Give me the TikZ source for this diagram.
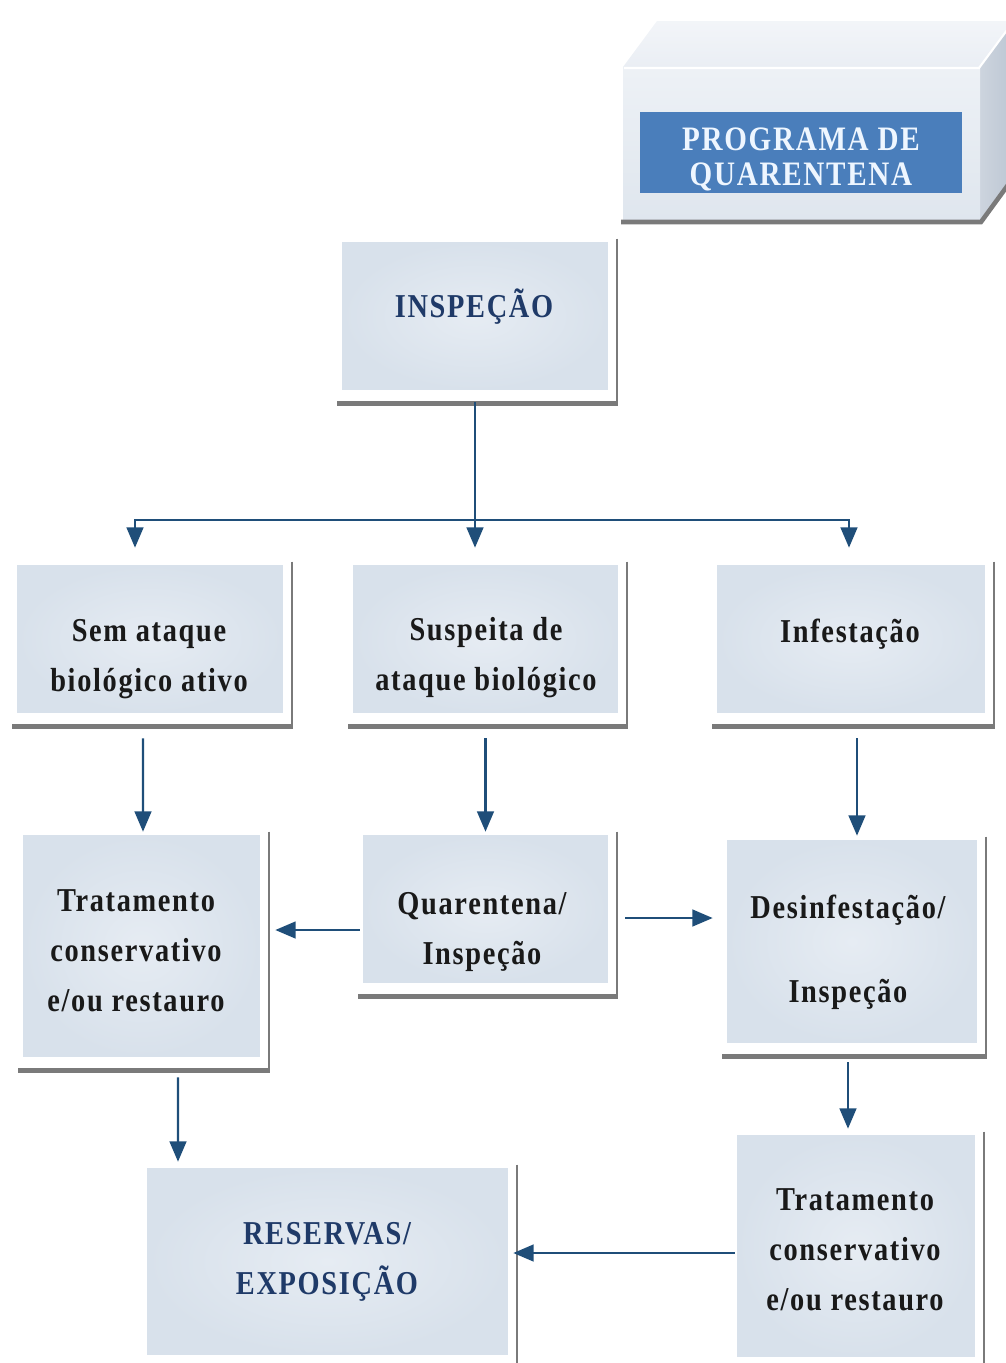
\documentclass[tikz,border=0pt]{standalone}
\usepackage{fontspec}
\setmainfont{Liberation Serif}[FakeStretch=0.85, LetterSpace=5]
\usetikzlibrary{arrows.meta}

\definecolor{boxfill}{HTML}{D8E1EB}
\definecolor{boxlight}{HTML}{E6ECF3}
\definecolor{flowblue}{HTML}{1F4E79}
\definecolor{headblue}{HTML}{1F3A68}
\definecolor{shadowgray}{HTML}{7A7A7A}
\definecolor{progblue}{HTML}{4A7EBB}
\definecolor{progtext}{HTML}{EEF6FF}
\definecolor{topface}{HTML}{EAEEF4}
\definecolor{sideface}{HTML}{BCC6D3}
\definecolor{frontface}{HTML}{DFE6EE}

\tikzset{
  box/.style={inner sep=0pt, inner color=boxlight, outer color=boxfill},
  txt/.style={align=center, inner sep=0pt, text=black!90,
    font=\fontsize{19pt}{28.5pt}\selectfont\bfseries},
  head/.style={txt, text=headblue},
  link/.style={draw=flowblue, line width=1.2pt},
  flow/.style={link, -{Triangle[length=11.5pt,width=9.5pt]}},
}

\begin{document}
\begin{tikzpicture}[x=0.02cm,y=-0.02cm]
\useasboundingbox (0,0) rectangle (1006,1363);
\clip (0,0) rectangle (1006,1363);

% programa (caixa em 3D)
\shade[top color=topface!60!white, bottom color=topface] (623,67) -- (657,21) -- (1040,21) -- (980,67) -- cycle;
\shade[left color=sideface!75!white, right color=sideface] (980,67) -- (1014,21) -- (1014,174) -- (980,220) -- cycle;
\shade[top color=frontface!55!white, bottom color=frontface] (623,67) rectangle (980,220);
\draw[white, line width=1.2pt] (624,68) -- (979,68) -- (1013,22);
\draw[shadowgray, line width=2.6pt] (621,222) -- (981,222) -- (1016,174);
\node[fill=progblue, minimum width=6.44cm, minimum height=1.62cm, inner sep=0pt] (prog) at (801,152.5) {};
\node[txt, text=progtext, font=\fontsize{19.5pt}{20pt}\selectfont\bfseries] (prog-t) at (801,159.5) {PROGRAMA DE\\QUARENTENA};

% caixas
\node[box, minimum width=5.32cm, minimum height=2.96cm] (insp) at (475,316) {};
\node[box, minimum width=5.32cm, minimum height=2.96cm] (sem) at (150,639) {};
\node[box, minimum width=5.30cm, minimum height=2.96cm] (susp) at (485.5,639) {};
\node[box, minimum width=5.36cm, minimum height=2.96cm] (infest) at (851,639) {};
\node[box, minimum width=4.74cm, minimum height=4.44cm] (tratL) at (141.5,946) {};
\node[box, minimum width=4.90cm, minimum height=2.96cm] (quar) at (485.5,909) {};
\node[box, minimum width=5.00cm, minimum height=4.06cm] (desinf) at (852,941.5) {};
\node[box, minimum width=7.22cm, minimum height=3.74cm] (reserv) at (327.5,1261.5) {};
\node[box, minimum width=4.76cm, minimum height=4.44cm] (tratR) at (856,1246) {};

\foreach \n in {insp,sem,susp,infest,tratL,quar,desinf,reserv,tratR} {
  \draw[shadowgray, line width=1.1pt] ([shift={(9,-3)}]\n.north east) -- ([shift={(9,13)}]\n.south east);
  \draw[shadowgray, line width=2.5pt] ([shift={(9.5,13)}]\n.south east) -- ([shift={(-5,13)}]\n.south west);
}

% textos
\node[head] (insp-t) at (474,307) {INSPEÇÃO};
\node[txt] (sem-t) at (149,659) {Sem ataque\\biológico ativo};
\node[txt] (susp-t) at (486,658) {Suspeita de\\ataque biológico};
\node[txt] (infest-t) at (850,634) {Infestação};
\node[txt] (tratL-t) at (136,951) {Tratamento\\conservativo\\e/ou restauro};
\node[txt] (quar-t) at (482,932) {Quarentena/\\Inspeção};
\node[txt] (desinf-t) at (848,952) {Desinfestação/\\[19.3pt]Inspeção};
\node[head] (reserv-t) at (327,1262) {RESERVAS/\\EXPOSIÇÃO};
\node[txt] (tratR-t) at (855,1250) {Tratamento\\conservativo\\e/ou restauro};

% ligacoes
\coordinate (split) at (475,520);
\draw[link] ([shift={(0,12)}]insp.south) -- (split);
\draw[flow] (split) -| ([shift={(-15,-17)}]sem.north);
\draw[flow] (split) -- ([shift={(-10.5,-17)}]susp.north);
\draw[flow] (split) -| ([shift={(-2,-17)}]infest.north);
\draw[flow] ([shift={(-7,25)}]sem.south) -- ([shift={(1.5,-3)}]tratL.north);
\draw[flow] ([shift={(0,25)}]susp.south) -- ([shift={(0,-3)}]quar.north);
\draw[flow] ([shift={(6,25)}]infest.south) -- ([shift={(5,-4)}]desinf.north);
\draw[flow] ([shift={(-3,21)}]quar.west) -- ([shift={(15,-16)}]tratL.east);
\draw[flow] ([shift={(17,9)}]quar.east) -- ([shift={(-14,-23.5)}]desinf.west);
\draw[flow] ([shift={(36.5,20)}]tratL.south) -- ([shift={(-149.5,-6)}]reserv.north);
\draw[flow] ([shift={(-4,19)}]desinf.south) -- ([shift={(-8,-6)}]tratR.north);
\draw[flow] ([shift={(-2,7)}]tratR.west) -- ([shift={(5,-8.5)}]reserv.east);
\end{tikzpicture}
\end{document}
